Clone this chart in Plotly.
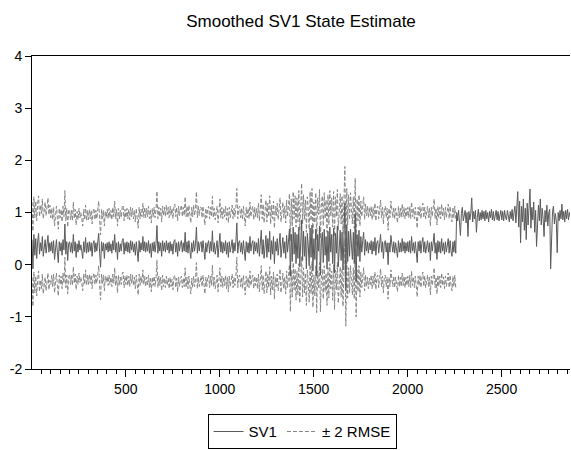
import plotly.graph_objects as go

# observation index (every 5th observation)
obs = list(range(1, 2867, 5))

# smoothed SV1 state estimate, in hundredths
sv1_rows = [
    [48, -8, 58, 18, 50, 12, 44, 60, 20, 42, 26, 54, 16, 40, 48, 22, 38, 56, 24, 42],
    [26, 44, 22, 46, 10, 40, 48, 24, 4, 44, 26, 42, 18, 48, 28, 78, 20, 44, 8, 40],
    [44, 24, 42, 22, 58, 26, 44, 14, 40, 24, 46, 28, 38, 26, 12, 44, 24, 52, 22, 42],
    [24, 44, 26, 42, 16, 40, 46, 24, 42, 26, 40, 60, 22, -5, 44, 26, 42, 12, 40, 28],
    [42, 24, 44, 26, 40, 22, 46, 28, 58, 24, 42, 10, 44, 24, 40, 26, 46, 50, 20, 42],
    [26, 44, 24, 42, 22, 46, 28, 44, 24, 40, 18, 44, 26, 6, 46, 24, 42, 28, 54, 26],
    [44, 24, 42, 26, 46, 22, 40, 14, 42, 26, 44, 24, 40, 75, 22, 44, 26, 42, 16, 46],
    [26, 42, 24, 46, 28, 42, 22, 44, 26, 40, 20, 44, 48, 24, 42, 16, 44, 26, 40, 46],
    [24, 42, 26, 62, 24, 44, 22, 46, 28, 12, 42, 24, 46, 26, 40, 72, 22, 44, 26, 42],
    [44, 24, 46, 28, 10, 42, 24, 40, 46, 22, 44, 26, 65, 24, 42, 20, 40, 46, 14, 42],
    [60, 24, 44, 22, 42, 26, 46, 20, 42, 14, 44, 24, 42, 48, 22, 42, 26, 44, 80, 22],
    [42, 46, 24, 42, 20, 46, 26, 8, 44, 24, 42, 22, 54, 26, 40, 46, 20, 44, 26, 42],
    [22, 50, 16, 46, 66, 20, 48, 12, 44, 56, 14, 50, 24, 64, 10, 46, 20, 54, 2, 44],
    [26, 50, 18, 46, 60, 14, 42, 52, 22, 44, 12, 56, 24, 48, 68, -22, 58, 6, 72, 20],
    [62, 2, 58, 12, 72, -4, 48, 86, 8, 64, 16, 54, -8, 60, 38, -2, 70, 14, 76, -12],
    [50, 10, 68, -22, 58, 26, 74, -20, 44, 62, 4, 68, 18, 54, -8, 64, 6, 72, 24, 58],
    [2, 70, -16, 60, 22, 74, -4, 54, 66, 8, 62, -10, 48, 118, -48, 76, 6, 64, 16, 68],
    [38, 10, 62, 2, 98, -32, 58, 16, 66, 6, 54, 24, 46, 62, 18, 48, 26, 44, 22, 42],
    [28, 46, 20, 44, 26, 52, 18, 42, 46, 22, 40, 58, 24, 44, 12, 42, 46, 24, 42, 0],
    [42, 24, 56, 40, 24, 44, 22, 42, 26, 14, 46, 24, 42, 24, 50, 26, 44, 22, 42, 26],
    [44, 24, 46, 22, 54, 26, 42, 22, 44, 24, 4, 44, 26, 46, 22, 42, 52, 24, 44, 22],
    [42, 46, 24, 42, 8, 44, 26, 46, 60, 22, 42, 10, 46, 24, 44, 22, 50, 26, 42, 20],
    [44, 24, 42, 50, 22, 46, 26, 16, 44, 24, 46, 22, 100, 84, 104, 86, 56, 98, 110, 84],
    [96, 104, 80, 100, 54, 102, 86, 98, 128, 82, 102, 88, 104, 62, 90, 106, 84, 100, 86, 104],
    [88, 102, 84, 104, 88, 100, 82, 102, 90, 106, 86, 102, 84, 100, 104, 86, 102, 84, 98, 104],
    [86, 102, 84, 104, 90, 86, 104, 88, 82, 102, 88, 106, 84, 100, 112, 80, 104, 140, 72, 122],
    [42, 112, 82, 126, 66, 108, 48, 118, 76, 104, 145, 70, 110, 86, 120, 62, 104, 35, 100, 114],
    [84, 126, 76, 108, 88, 54, 104, 82, 114, 74, 100, 106, -8, 82, 102, 112, 78, 98, 84, 23],
    [100, 84, 104, 88, 116, 86, 102, 82, 104, 88, 106, 86, 100, 92],
]

# RMSE of the state, one value per block of 100 observations
rmse_block = [0.36, 0.32, 0.31, 0.31, 0.32, 0.32, 0.33, 0.34, 0.34, 0.33, 0.33, 0.33,
              0.34, 0.34, 0.35, 0.35, 0.35, 0.34, 0.33, 0.33, 0.33, 0.33, 0.33]
band_last_obs = 2256

x_ticks = [500, 1000, 1500, 2000, 2500]
y_ticks = [-2, -1, 0, 1, 2, 3, 4]
y_labels = ["-2", "-1", "0", "1", "2", "3", "4"]

sv1 = [v / 100 for row in sv1_rows for v in row]
upper, lower = [], []
for i, v in zip(obs, sv1):
    if i <= band_last_obs:
        r = rmse_block[(i - 1) // 100]
        upper.append(v + 2 * r)
        lower.append(v - 2 * r)
    else:
        upper.append(None)
        lower.append(None)

FONT = "Liberation Sans, Arial, sans-serif"
band_color = "#858585"
sv1_color = "#5a5a5a"

fig = go.Figure()
fig.add_trace(go.Scatter(x=obs, y=upper, mode="lines", name="± 2 RMSE",
                         line=dict(color=band_color, width=1, dash="4px,2px"),
                         legendrank=2, connectgaps=False))
fig.add_trace(go.Scatter(x=obs, y=lower, mode="lines", name="± 2 RMSE",
                         line=dict(color=band_color, width=1, dash="4px,2px"),
                         showlegend=False, connectgaps=False))
fig.add_trace(go.Scatter(x=obs, y=sv1, mode="lines", name="SV1",
                         line=dict(color=sv1_color, width=1), legendrank=1))

fig.update_layout(
    width=571, height=450,
    margin=dict(l=32, r=1, t=56, b=69),
    paper_bgcolor="white", plot_bgcolor="white",
    font=dict(family=FONT, size=14, color="black"),
    title=dict(text="Smoothed SV1 State Estimate", x=0.5, xref="paper",
               xanchor="center", y=1 - 21 / 450, yref="container", yanchor="middle",
               font=dict(size=17, family=FONT, color="black")),
    showlegend=True,
    legend=dict(orientation="h", x=0.502, xanchor="center", y=-(428 - 381) / 325,
                yanchor="top", bordercolor="black", borderwidth=1,
                font=dict(size=15, family=FONT), traceorder="normal",
                itemwidth=30),
    xaxis=dict(range=[1, 2864], tickmode="array", tickvals=x_ticks,
               showgrid=False, zeroline=False, showline=True, linecolor="black",
               linewidth=1, mirror=True, ticks="outside", ticklen=7,
               tickcolor="black", tickfont=dict(size=14),
               minor=dict(dtick=50, tick0=0, ticks="outside", ticklen=4,
                          tickcolor="black", showgrid=False)),
    yaxis=dict(range=[-2, 4], tickmode="array", tickvals=y_ticks, ticktext=y_labels,
               showgrid=False, zeroline=False, showline=True, linecolor="black",
               linewidth=1, ticks="outside", ticklen=6, tickcolor="black",
               tickfont=dict(size=14)),
)

fig.write_html("out.html")
